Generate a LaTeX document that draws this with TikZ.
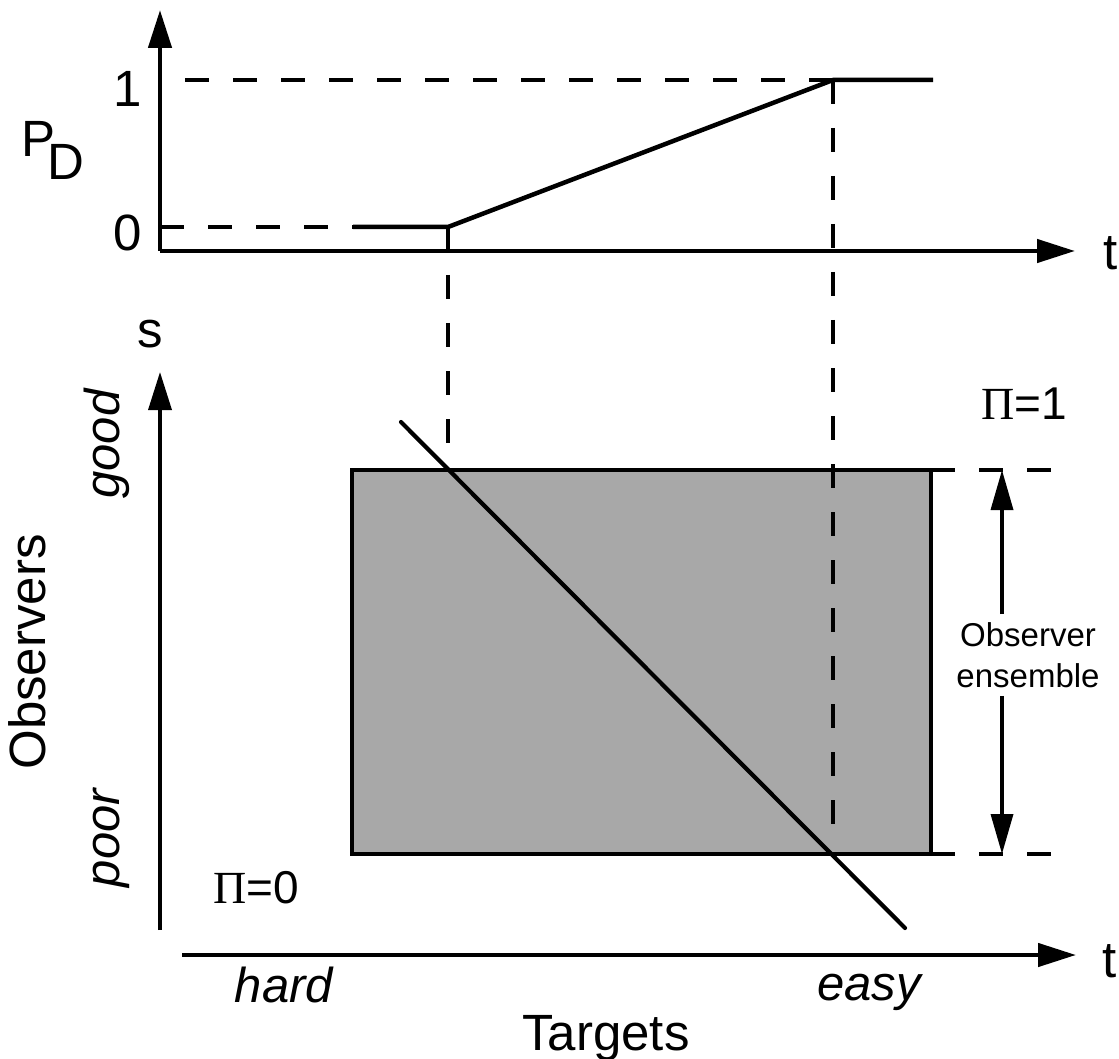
\documentclass[tikz,border=0pt]{standalone}
\usepackage{fontspec}
\setmainfont{Liberation Sans}
\newfontfamily\greekserif{Liberation Serif}
\usepackage{tikz}
\usetikzlibrary{arrows.meta, positioning, calc}
\definecolor{ensgray}{gray}{0.66}
\tikzset{
  axisarr/.style={-{Triangle[length=38pt,width=23pt]},line width=4.5pt},
  thinaxis/.style={-{Triangle[length=38pt,width=23pt]},line width=3.5pt},
  guide/.style={line width=3.8pt,dash pattern=on 24pt off 24pt},
  pdline/.style={line width=4.5pt,line join=round},
  cutline/.style={line width=4.2pt,line cap=round},
  ensbox/.style={fill=ensgray,draw=black,line width=4.5pt},
  ensarr/.style={-{Triangle[length=40pt,width=22pt]},line width=3.5pt},
  bigtxt/.style={font=\fontsize{51}{55}\selectfont,inner sep=0pt},
  bigit/.style={font=\fontsize{49}{53}\selectfont\itshape,inner sep=0pt},
  pitxt/.style={font=\fontsize{46}{50}\selectfont,inner sep=0pt},
  smalltxt/.style={font=\fontsize{33}{41}\selectfont,align=center,inner sep=8pt}
}

\begin{document}
\begin{tikzpicture}[x=1pt,y=-1pt]
  \useasboundingbox (0,0) rectangle (1119,1059);

  % upper plot: detection probability
  \coordinate (po) at (160,251);
  \coordinate (pyend) at (160,10);
  \coordinate (pxend) at (1075,251);
  \coordinate (zero) at (160,227);
  \coordinate (flat) at (353,227);
  \coordinate (ramp0) at (448,227);
  \coordinate (ramp1) at (833,80);
  \coordinate (one) at (185,80);
  \coordinate (sat) at (933,80);

  \draw[axisarr] (po) -- (pyend);
  \draw[axisarr] (po) -- (pxend);
  \draw[guide] (zero) -- (flat);
  \draw[guide] (one) -- (ramp1);
  \draw[pdline] (flat) -- (ramp0) -- (ramp1) -- (sat);

  \node[bigtxt,anchor=base] (l1) at (128,107) {1};
  \node[bigtxt,anchor=base] (l0) at (128,251) {0};
  \node[bigtxt,anchor=base west] (pd) at (21,157) {P\kern-8pt\raisebox{-23pt}{D}};
  \node[bigtxt,anchor=base] (tup) at (1111,270) {t};

  % lower plot: observer ensemble against targets
  \coordinate (bo) at (160,930);
  \coordinate (syend) at (160,372);
  \coordinate (bx0) at (182,955);
  \coordinate (bxend) at (1076,955);
  \coordinate (ensNW) at (352,470);
  \coordinate (ensSE) at (931,854);
  \coordinate (cut0) at (401,422);
  \coordinate (cut1) at (905,928);
  \coordinate (ensTop) at (1002,470);
  \coordinate (ensBot) at (1002,854);

  \draw[ensbox] (ensNW) rectangle (ensSE);

  % projections down from the ramp ends
  \draw[guide] (ramp0) -- (448,445);
  \draw[guide] (ramp1) -- (833,830);
  \draw[guide] (ensSE |- ensNW) -- (1051,470);
  \draw[guide] (ensSE) -- (1051,854);

  \draw[cutline] (cut0) -- (cut1);

  \draw[thinaxis] (bo) -- (syend);
  \draw[axisarr] (bx0) -- (bxend);

  \node[smalltxt] (ens) at (1028,655) {Observer\\ensemble};
  \draw[ensarr] (ens.north -| ensTop) -- (ensTop);
  \draw[ensarr] (ens.south -| ensBot) -- (ensBot);

  \node[bigtxt,anchor=base] (s) at (150,347) {s};
  \node[bigtxt,anchor=base] (tlow) at (1110,977) {t};
  \node[bigit,rotate=90,anchor=base] (good) at (119,444) {good};
  \node[bigit,rotate=90,anchor=base] (poor) at (119,838) {poor};
  \node[bigtxt,rotate=90,anchor=base] (obs) at (45,652) {Observers};
  \node[bigit,anchor=base] (hard) at (284,1002) {hard};
  \node[bigit,anchor=base] (easy) at (869,1000) {easy};
  \node[bigtxt,anchor=base] (tgt) at (606,1050) {Targets};
  \node[pitxt,anchor=base] (pi0) at (256,903) {{\greekserif Π}=0};
  \node[pitxt,anchor=base] (pi1) at (1024,419) {{\greekserif Π}=1};
\end{tikzpicture}
\end{document}
